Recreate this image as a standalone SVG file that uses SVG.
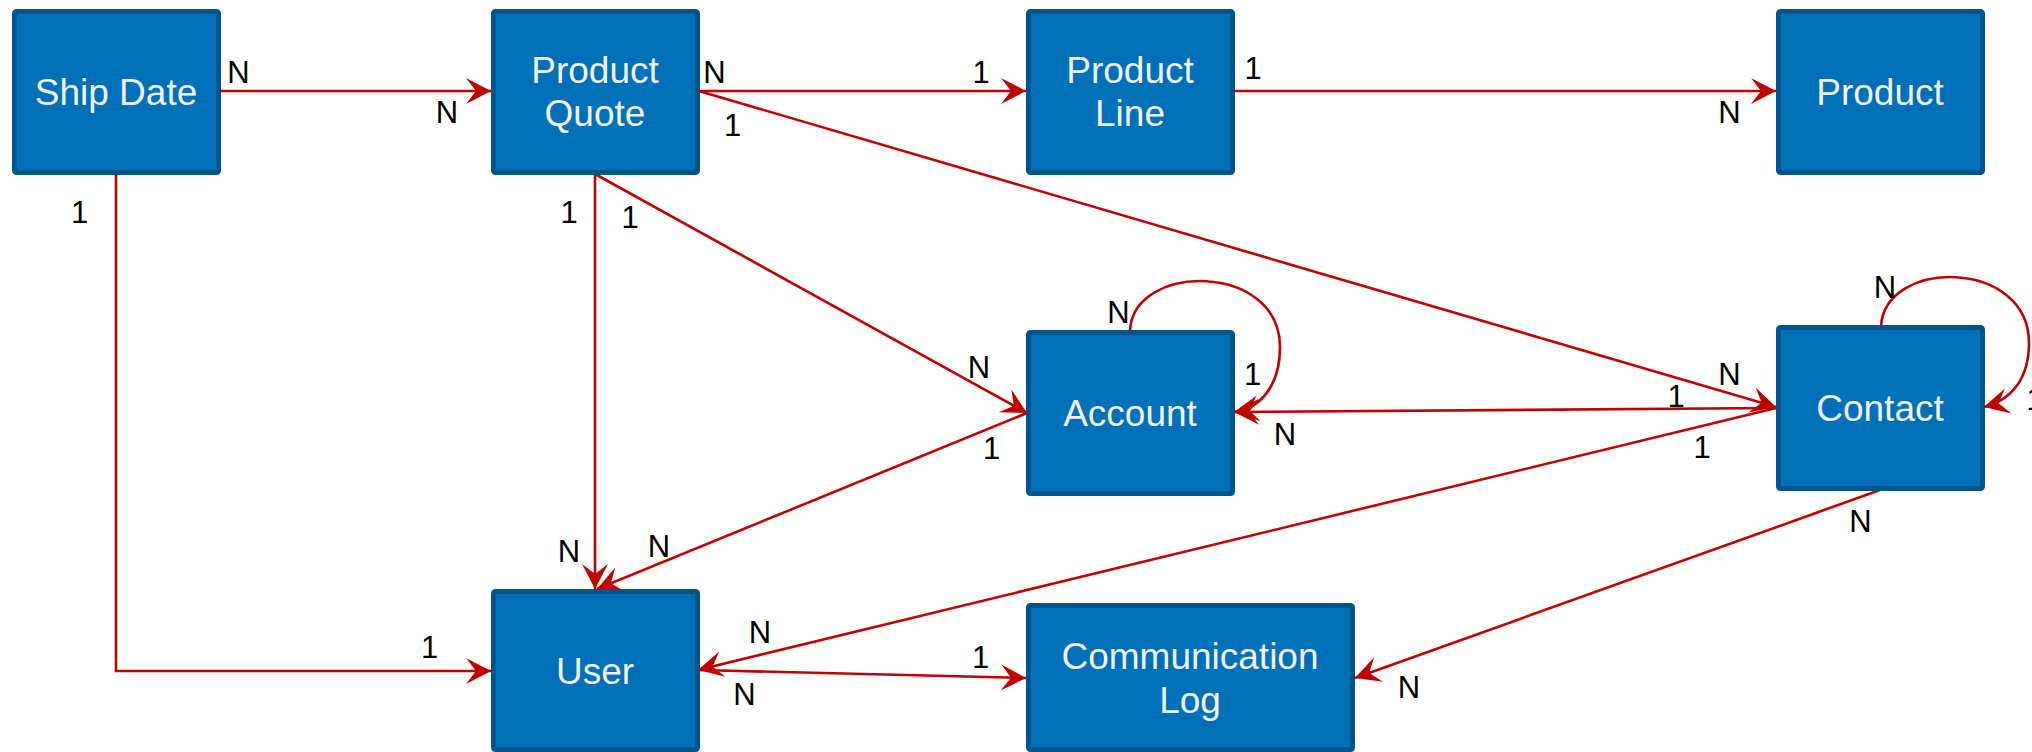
<svg xmlns="http://www.w3.org/2000/svg" width="2032" height="752" viewBox="0 0 2032 752">
  <style>
    .box { fill: #0070B8; stroke: #00548C; stroke-width: 5; }
    .t { font-family: "Liberation Sans", Arial, sans-serif; font-size: 37px; fill: #F2F2F2; text-anchor: middle; }
    .c { fill: none; stroke: #C00000; stroke-width: 2.6; }
    .arr { marker-end: url(#ah); }
    .lb { font-family: "Liberation Sans", Arial, sans-serif; font-size: 31px; fill: #000000; text-anchor: middle; }
  </style>
  <defs>
    <marker id="ah" markerUnits="userSpaceOnUse" markerWidth="32" markerHeight="32" viewBox="-28 -16 32 32" refX="0" refY="0" orient="auto">
      <path d="M0,0 L-25,-13 L-15,0 L-25,13 Z" fill="#C00000"/>
    </marker>
  </defs>
  <rect width="2032" height="752" fill="#FFFFFF"/>

  <g id="connectors">
    <path class="c arr" d="M220,91 L491,91"/>
    <path class="c arr" d="M699,91 L1026,91"/>
    <path class="c arr" d="M1234,91 L1776,91"/>
    <path class="c arr" d="M699,91 L1776,407"/>
    <path class="c arr" d="M116,174 L116,671 L491,671"/>
    <path class="c arr" d="M595,174 L595,589"/>
    <path class="c arr" d="M595,174 L1027,413"/>
    <path class="c arr" d="M1027,413 L597,589"/>
    <path class="c arr" d="M1130,331 C1133,262 1280,262 1280,347 C1280,384 1262,408 1234,412"/>
    <path class="c arr" d="M1776,408 L1234,412"/>
    <path class="c arr" d="M1776,408 L698,670"/>
    <path class="c arr" d="M1881,327 C1884,258 2029,258 2029,343 C2029,378 2012,400 1984,407"/>
    <path class="c arr" d="M698,670 L1026,678"/>
    <path class="c arr" d="M1880,490 L1355,678"/>

    <text class="lb" x="238.5" y="83">N</text>
    <text class="lb" x="447" y="123">N</text>
    <text class="lb" x="714.5" y="83">N</text>
    <text class="lb" x="981" y="83">1</text>
    <text class="lb" x="1253" y="79">1</text>
    <text class="lb" x="1729.5" y="123">N</text>
    <text class="lb" x="732.5" y="136">1</text>
    <text class="lb" x="1729.5" y="385">N</text>
    <text class="lb" x="79.5" y="223">1</text>
    <text class="lb" x="429.5" y="658">1</text>
    <text class="lb" x="569" y="223">1</text>
    <text class="lb" x="569" y="562">N</text>
    <text class="lb" x="630" y="228">1</text>
    <text class="lb" x="979" y="378">N</text>
    <text class="lb" x="991.5" y="459">1</text>
    <text class="lb" x="659" y="557">N</text>
    <text class="lb" x="1118.5" y="323">N</text>
    <text class="lb" x="1252.5" y="385">1</text>
    <text class="lb" x="1676" y="407">1</text>
    <text class="lb" x="1285" y="445">N</text>
    <text class="lb" x="1702" y="458">1</text>
    <text class="lb" x="760" y="643">N</text>
    <text class="lb" x="1885" y="298">N</text>
    <text class="lb" x="2035" y="410">1</text>
    <text class="lb" x="744.5" y="705">N</text>
    <text class="lb" x="980.5" y="668">1</text>
    <text class="lb" x="1860.5" y="532">N</text>
    <text class="lb" x="1409" y="698">N</text>
  </g>

  <g id="ship-date">
    <rect class="box" x="14.5" y="11.5" width="204" height="161" rx="2"/>
    <text class="t" x="116" y="105">Ship Date</text>
  </g>
  <g id="product-quote">
    <rect class="box" x="493.5" y="11.5" width="204" height="161" rx="2"/>
    <text class="t" x="595" y="83">Product</text>
    <text class="t" x="595" y="126">Quote</text>
  </g>
  <g id="product-line">
    <rect class="box" x="1028.5" y="11.5" width="204" height="161" rx="2"/>
    <text class="t" x="1130" y="83">Product</text>
    <text class="t" x="1130" y="126">Line</text>
  </g>
  <g id="product">
    <rect class="box" x="1778.5" y="11.5" width="204" height="161" rx="2"/>
    <text class="t" x="1880" y="105">Product</text>
  </g>
  <g id="account">
    <rect class="box" x="1028.5" y="332.5" width="204" height="161" rx="2"/>
    <text class="t" x="1130" y="426">Account</text>
  </g>
  <g id="contact">
    <rect class="box" x="1778.5" y="327.5" width="204" height="161" rx="2"/>
    <text class="t" x="1880" y="421">Contact</text>
  </g>
  <g id="user">
    <rect class="box" x="493.5" y="591.5" width="204" height="158" rx="2"/>
    <text class="t" x="595" y="684">User</text>
  </g>
  <g id="communication-log">
    <rect class="box" x="1028.5" y="605.5" width="324" height="144" rx="2"/>
    <text class="t" x="1190" y="669">Communication</text>
    <text class="t" x="1190" y="713">Log</text>
  </g>
</svg>
